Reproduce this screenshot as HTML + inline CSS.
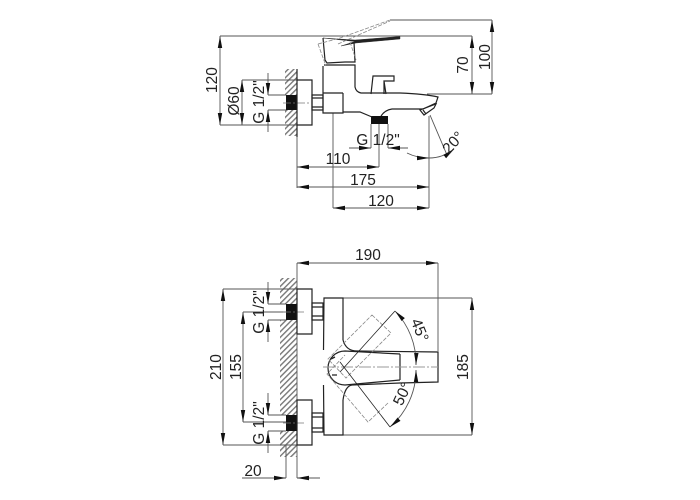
<!DOCTYPE html>
<html><head><meta charset="utf-8"><style>
html,body{margin:0;padding:0;background:#fff}
svg{display:block}
text{font-family:"Liberation Sans",sans-serif;font-size:15.500px;fill:#222;text-anchor:middle}
.d{stroke:#555;stroke-width:.9;fill:none}
.o{stroke:#222;stroke-width:1.2;fill:none}
.t{stroke:#222;stroke-width:.8;fill:none}
.g{stroke:#888;stroke-width:.8;fill:none;stroke-dasharray:4 1.5}
.h{stroke:#777;stroke-width:.8}
</style></head><body>
<svg width="700" height="500" viewBox="0 0 700 500" xmlns="http://www.w3.org/2000/svg">
<defs>
<pattern id="hp" width="4" height="4" patternUnits="userSpaceOnUse" patternTransform="rotate(45)">
<rect width="4" height="4" fill="#fff"/><rect width="1.400" height="4" fill="#777"/>
</pattern>
<marker id="a" markerWidth="12" markerHeight="6" refX="12" refY="3" orient="auto-start-reverse" markerUnits="userSpaceOnUse"><path d="M0 .8L12 3L0 5.200Z" fill="#111"/></marker>
</defs>

<!-- TOP VIEW: hatching -->
<rect x="285" y="69" width="12" height="26" fill="url(#hp)"/>
<rect x="285" y="110" width="12" height="26" fill="url(#hp)"/>
<rect x="286" y="95" width="11" height="15" fill="#111"/>
<rect x="371" y="116" width="17" height="8" fill="#111"/>

<!-- top dims -->
<path class="d" d="M220 36H400M220 125H297M242 80H297M268 95H286M268 110H286M400 36H472M390 20H492M427 94H492"/>
<path class="d" d="M220 36V125" marker-start="url(#a)" marker-end="url(#a)"/>
<path class="d" d="M242 80V125" marker-start="url(#a)" marker-end="url(#a)"/>
<path class="d" d="M268 73V95" marker-end="url(#a)"/>
<path class="d" d="M268 132V110" marker-end="url(#a)"/>
<path class="d" d="M472 36V94" marker-start="url(#a)" marker-end="url(#a)"/>
<path class="d" d="M492 20V94" marker-start="url(#a)" marker-end="url(#a)"/>
<path class="d" d="M297 125V188M333 113V208M429 116V208M371 124V148M388 124V148M379 124V167"/>
<path class="d" d="M297 167H379" marker-start="url(#a)" marker-end="url(#a)"/>
<path class="d" d="M297 187H429" marker-start="url(#a)" marker-end="url(#a)"/>
<path class="d" d="M333 208H429" marker-start="url(#a)" marker-end="url(#a)"/>
<path class="d" d="M349 148H371" marker-end="url(#a)"/>
<path class="d" d="M408 148H388" marker-end="url(#a)"/>
<path class="d" d="M430 115L447 155"/>
<path class="d" d="M407 153Q417 158 429 158" marker-end="url(#a)"/>
<path class="d" d="M429 158Q443 158 454 149" marker-end="url(#a)"/>
<path class="h" d="M283 103H310" stroke-dasharray="8 2 2 2"/>

<!-- top faucet -->
<path class="o" d="M297 80H312V125H297ZM297 69V137"/>
<path class="o" d="M312 95H323V110H312ZM312 98H323M312 107H323"/>
<path class="o" d="M323 66V113H343V93M323 93H343"/>
<path class="o" d="M324 65H355V87Q356 92 361 93H400Q425 94 438 97L436 103L423 109H392Q385 110 381 116M343 112H360L372 117"/>
<path class="o" d="M323 38L325 60L327 63L345 62H355L354 42"/>
<path d="M323 38L355 40L400 36.500V39L356 43L341 46L355 41.500Z" fill="#222" stroke="#222" stroke-width=".4"/>
<path class="o" d="M371 94L373 76H394V81H384L386 94M384 81V94"/>
<path class="o" d="M420 110L436 104L434 108L424 115ZM423 110L426 114"/>
<path class="g" d="M318 44L340 38L390 20M338 44L390 21M318 44L326 66M350 42L356 60"/>

<!-- BOTTOM VIEW -->
<rect x="280" y="278" width="17" height="26" fill="url(#hp)"/>
<rect x="280" y="320" width="17" height="95" fill="url(#hp)"/>
<rect x="280" y="431" width="17" height="26" fill="url(#hp)"/>
<rect x="286" y="304" width="11" height="16" fill="#111"/>
<rect x="286" y="415" width="11" height="16" fill="#111"/>

<path class="d" d="M297 263V478M438 263V351M286 445V478"/>
<path class="d" d="M297 263H438" marker-start="url(#a)" marker-end="url(#a)"/>
<path class="d" d="M223 289H297M223 445H297M243 312H286M243 422H286M268 304H286M268 320H286M268 415H286M268 431H286M343 298H472M343 435H472"/>
<path class="d" d="M223 289V445" marker-start="url(#a)" marker-end="url(#a)"/>
<path class="d" d="M243 312V422" marker-start="url(#a)" marker-end="url(#a)"/>
<path class="d" d="M472 298V435" marker-start="url(#a)" marker-end="url(#a)"/>
<path class="d" d="M268 282V304" marker-end="url(#a)"/>
<path class="d" d="M268 342V320" marker-end="url(#a)"/>
<path class="d" d="M268 393V415" marker-end="url(#a)"/>
<path class="d" d="M268 453V431" marker-end="url(#a)"/>
<path class="d" d="M242 478H286" marker-end="url(#a)"/>
<path class="d" d="M320 478H297" marker-end="url(#a)"/>
<path class="h" d="M283 312H304M283 423H304" stroke-dasharray="8 2 2 2"/>

<path class="o" d="M297 289H312V334H297ZM297 400H312V445H297Z"/>
<path class="o" d="M312 303H323V320H312ZM312 307H323M312 316H323M312 413H323V432H312ZM312 417H323M312 428H323"/>
<path class="o" stroke-width="1.300" d="M343 340V298H324L323.500 350M323.500 385L324 435H343V400"/>
<path class="o" stroke-width="1.300" d="M343 340Q346 351 357 351L438 352V382L400 383L352 385Q345 386 343 400"/>
<path class="o" stroke-width="1.300" d="M400 354V380M400 354L345 351A17 17 0 0 0 345 385L400 380"/>
<path class="d" style="stroke:#999" d="M323 367H438" stroke-dasharray="12 2 2 2"/>
<path class="g" d="M372 315L391 333L346 378L328 359ZM388 403L368 422L327 374L345 355"/>
<path class="t" d="M340 372L395 311M340 362L390 427"/>
<path class="d" d="M395 311A75 75 0 0 1 416 365" marker-start="url(#a)" marker-end="url(#a)"/>
<path class="d" d="M416 370A75 75 0 0 1 390 427" marker-start="url(#a)" marker-end="url(#a)"/>
<path d="M331 359l4-2M332 375l5 0" stroke="#222" stroke-width="1.300"/>

<!-- TEXT -->
<text transform="translate(217 80) rotate(-90)">120</text>
<text transform="translate(239 101) rotate(-90)">Ø60</text>
<text transform="translate(264 102) rotate(-90)">G 1/2"</text>
<text transform="translate(468 65) rotate(-90)">70</text>
<text transform="translate(490 57) rotate(-90)">100</text>
<text x="338" y="164">110</text>
<text x="363" y="185">175</text>
<text x="381" y="206">120</text>
<text x="378" y="145">G 1/2"</text>
<text transform="translate(457 146) rotate(-48)">20°</text>
<text x="368" y="260">190</text>
<text transform="translate(221 367) rotate(-90)">210</text>
<text transform="translate(241 367) rotate(-90)">155</text>
<text transform="translate(264 312) rotate(-90)">G 1/2"</text>
<text transform="translate(264 423) rotate(-90)">G 1/2"</text>
<text x="253" y="476">20</text>
<text transform="translate(468 367) rotate(-90)">185</text>
<text transform="translate(415 332) rotate(68)">45°</text>
<text transform="translate(407 396) rotate(-65)">50°</text>
</svg>
</body></html>
